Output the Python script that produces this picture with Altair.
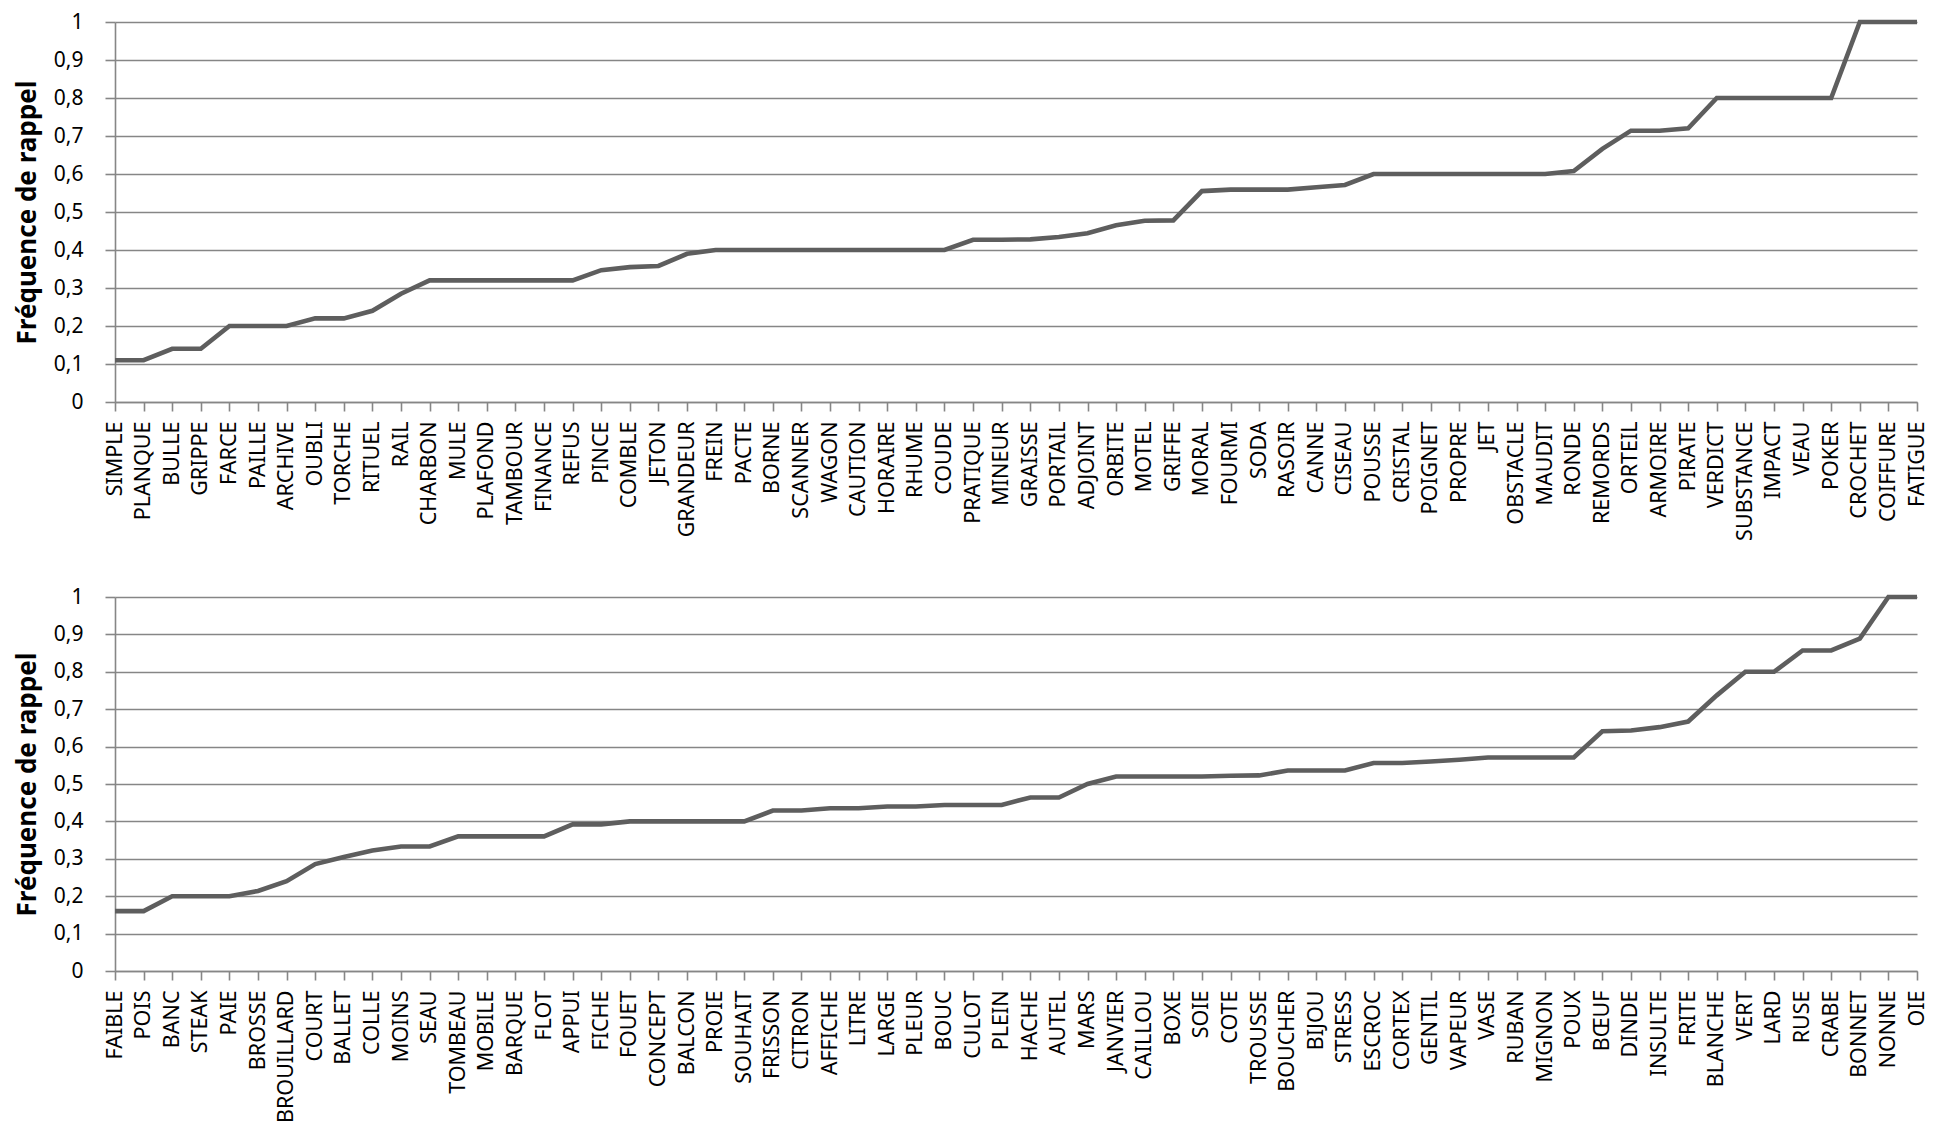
import altair as alt
import pandas as pd

# ---- data ----
top_words = ["SIMPLE", "PLANQUE", "BULLE", "GRIPPE", "FARCE", "PAILLE", "ARCHIVE", "OUBLI",
             "TORCHE", "RITUEL", "RAIL", "CHARBON", "MULE", "PLAFOND", "TAMBOUR", "FINANCE",
             "REFUS", "PINCE", "COMBLE", "JETON", "GRANDEUR", "FREIN", "PACTE", "BORNE",
             "SCANNER", "WAGON", "CAUTION", "HORAIRE", "RHUME", "COUDE", "PRATIQUE", "MINEUR",
             "GRAISSE", "PORTAIL", "ADJOINT", "ORBITE", "MOTEL", "GRIFFE", "MORAL", "FOURMI",
             "SODA", "RASOIR", "CANNE", "CISEAU", "POUSSE", "CRISTAL", "POIGNET", "PROPRE",
             "JET", "OBSTACLE", "MAUDIT", "RONDE", "REMORDS", "ORTEIL", "ARMOIRE", "PIRATE",
             "VERDICT", "SUBSTANCE", "IMPACT", "VEAU", "POKER", "CROCHET", "COIFFURE", "FATIGUE"]
top_values = [0.11, 0.11, 0.14, 0.14, 0.20, 0.20, 0.20, 0.22,
              0.22, 0.24, 0.285, 0.32, 0.32, 0.32, 0.32, 0.32,
              0.32, 0.347, 0.355, 0.358, 0.39, 0.40, 0.40, 0.40,
              0.40, 0.40, 0.40, 0.40, 0.40, 0.40, 0.427, 0.427,
              0.428, 0.434, 0.444, 0.465, 0.477, 0.478, 0.555, 0.559,
              0.559, 0.559, 0.565, 0.571, 0.60, 0.60, 0.60, 0.60,
              0.60, 0.60, 0.60, 0.608, 0.666, 0.714, 0.714, 0.72,
              0.80, 0.80, 0.80, 0.80, 0.80, 1.0, 1.0, 1.0]

bottom_words = ["FAIBLE", "POIS", "BANC", "STEAK", "PAIE", "BROSSE", "BROUILLARD", "COURT",
                "BALLET", "COLLE", "MOINS", "SEAU", "TOMBEAU", "MOBILE", "BARQUE", "FLOT",
                "APPUI", "FICHE", "FOUET", "CONCEPT", "BALCON", "PROIE", "SOUHAIT", "FRISSON",
                "CITRON", "AFFICHE", "LITRE", "LARGE", "PLEUR", "BOUC", "CULOT", "PLEIN",
                "HACHE", "AUTEL", "MARS", "JANVIER", "CAILLOU", "BOXE", "SOIE", "COTE",
                "TROUSSE", "BOUCHER", "BIJOU", "STRESS", "ESCROC", "CORTEX", "GENTIL", "VAPEUR",
                "VASE", "RUBAN", "MIGNON", "POUX", "BŒUF", "DINDE", "INSULTE", "FRITE",
                "BLANCHE", "VERT", "LARD", "RUSE", "CRABE", "BONNET", "NONNE", "OIE"]
bottom_values = [0.16, 0.16, 0.20, 0.20, 0.20, 0.214, 0.24, 0.286,
                 0.305, 0.322, 0.333, 0.333, 0.36, 0.36, 0.36, 0.36,
                 0.392, 0.392, 0.40, 0.40, 0.40, 0.40, 0.40, 0.429,
                 0.429, 0.435, 0.435, 0.44, 0.44, 0.444, 0.444, 0.444,
                 0.464, 0.464, 0.50, 0.52, 0.52, 0.52, 0.52, 0.522,
                 0.523, 0.536, 0.536, 0.536, 0.556, 0.556, 0.56, 0.565,
                 0.571, 0.571, 0.571, 0.571, 0.641, 0.643, 0.652, 0.667,
                 0.737, 0.80, 0.80, 0.857, 0.857, 0.889, 1.0, 1.0]

y_ticks = [0, 0.1, 0.2, 0.3, 0.4, 0.5, 0.6, 0.7, 0.8, 0.9, 1]
y_title = "Fréquence de rappel"

FONT = "Noto Sans"
GRID = "#868686"
LINE = "#5e5e5e"


def panel(words, values, h):
    df = pd.DataFrame({"mot": words, "freq": values})
    return alt.Chart(df).mark_line(color=LINE, strokeWidth=4.6).encode(
        x=alt.X("mot:N", sort=words,
                scale=alt.Scale(type="point", padding=0),
                axis=alt.Axis(title=None, labelAngle=-90, labelFontSize=21.5, labelLimit=0,
                              labelPadding=10, tickSize=9, grid=False,
                              labelOverlap=False)),
        y=alt.Y("freq:Q", scale=alt.Scale(domain=[0, 1], nice=False, zero=True),
                axis=alt.Axis(title=y_title, values=y_ticks, grid=True,
                              labelExpr="replace(format(datum.value, '.1~f'), '.', ',')",
                              labelFontSize=21, labelPadding=22, tickSize=10,
                              titleFontSize=26, titleFontWeight="bold", titlePadding=13))
    ).properties(width=1802, height=h)


top = panel(top_words, top_values, 380)
bottom = panel(bottom_words, bottom_values, 374)

chart = alt.vconcat(top, bottom, spacing=195, bounds="flush").properties(
    padding={"left": 6, "top": 3, "right": 5, "bottom": 5},
    background="white",
).configure_axis(
    labelFont=FONT, titleFont=FONT, labelColor="#000000", titleColor="#000000",
    gridColor=GRID, gridWidth=1.6, gridOpacity=1,
    domainColor=GRID, domainWidth=1.6, tickColor=GRID, tickWidth=1.6
).configure_view(stroke=None)

chart.save("out.html", embed_options={"renderer": "svg", "actions": False})
